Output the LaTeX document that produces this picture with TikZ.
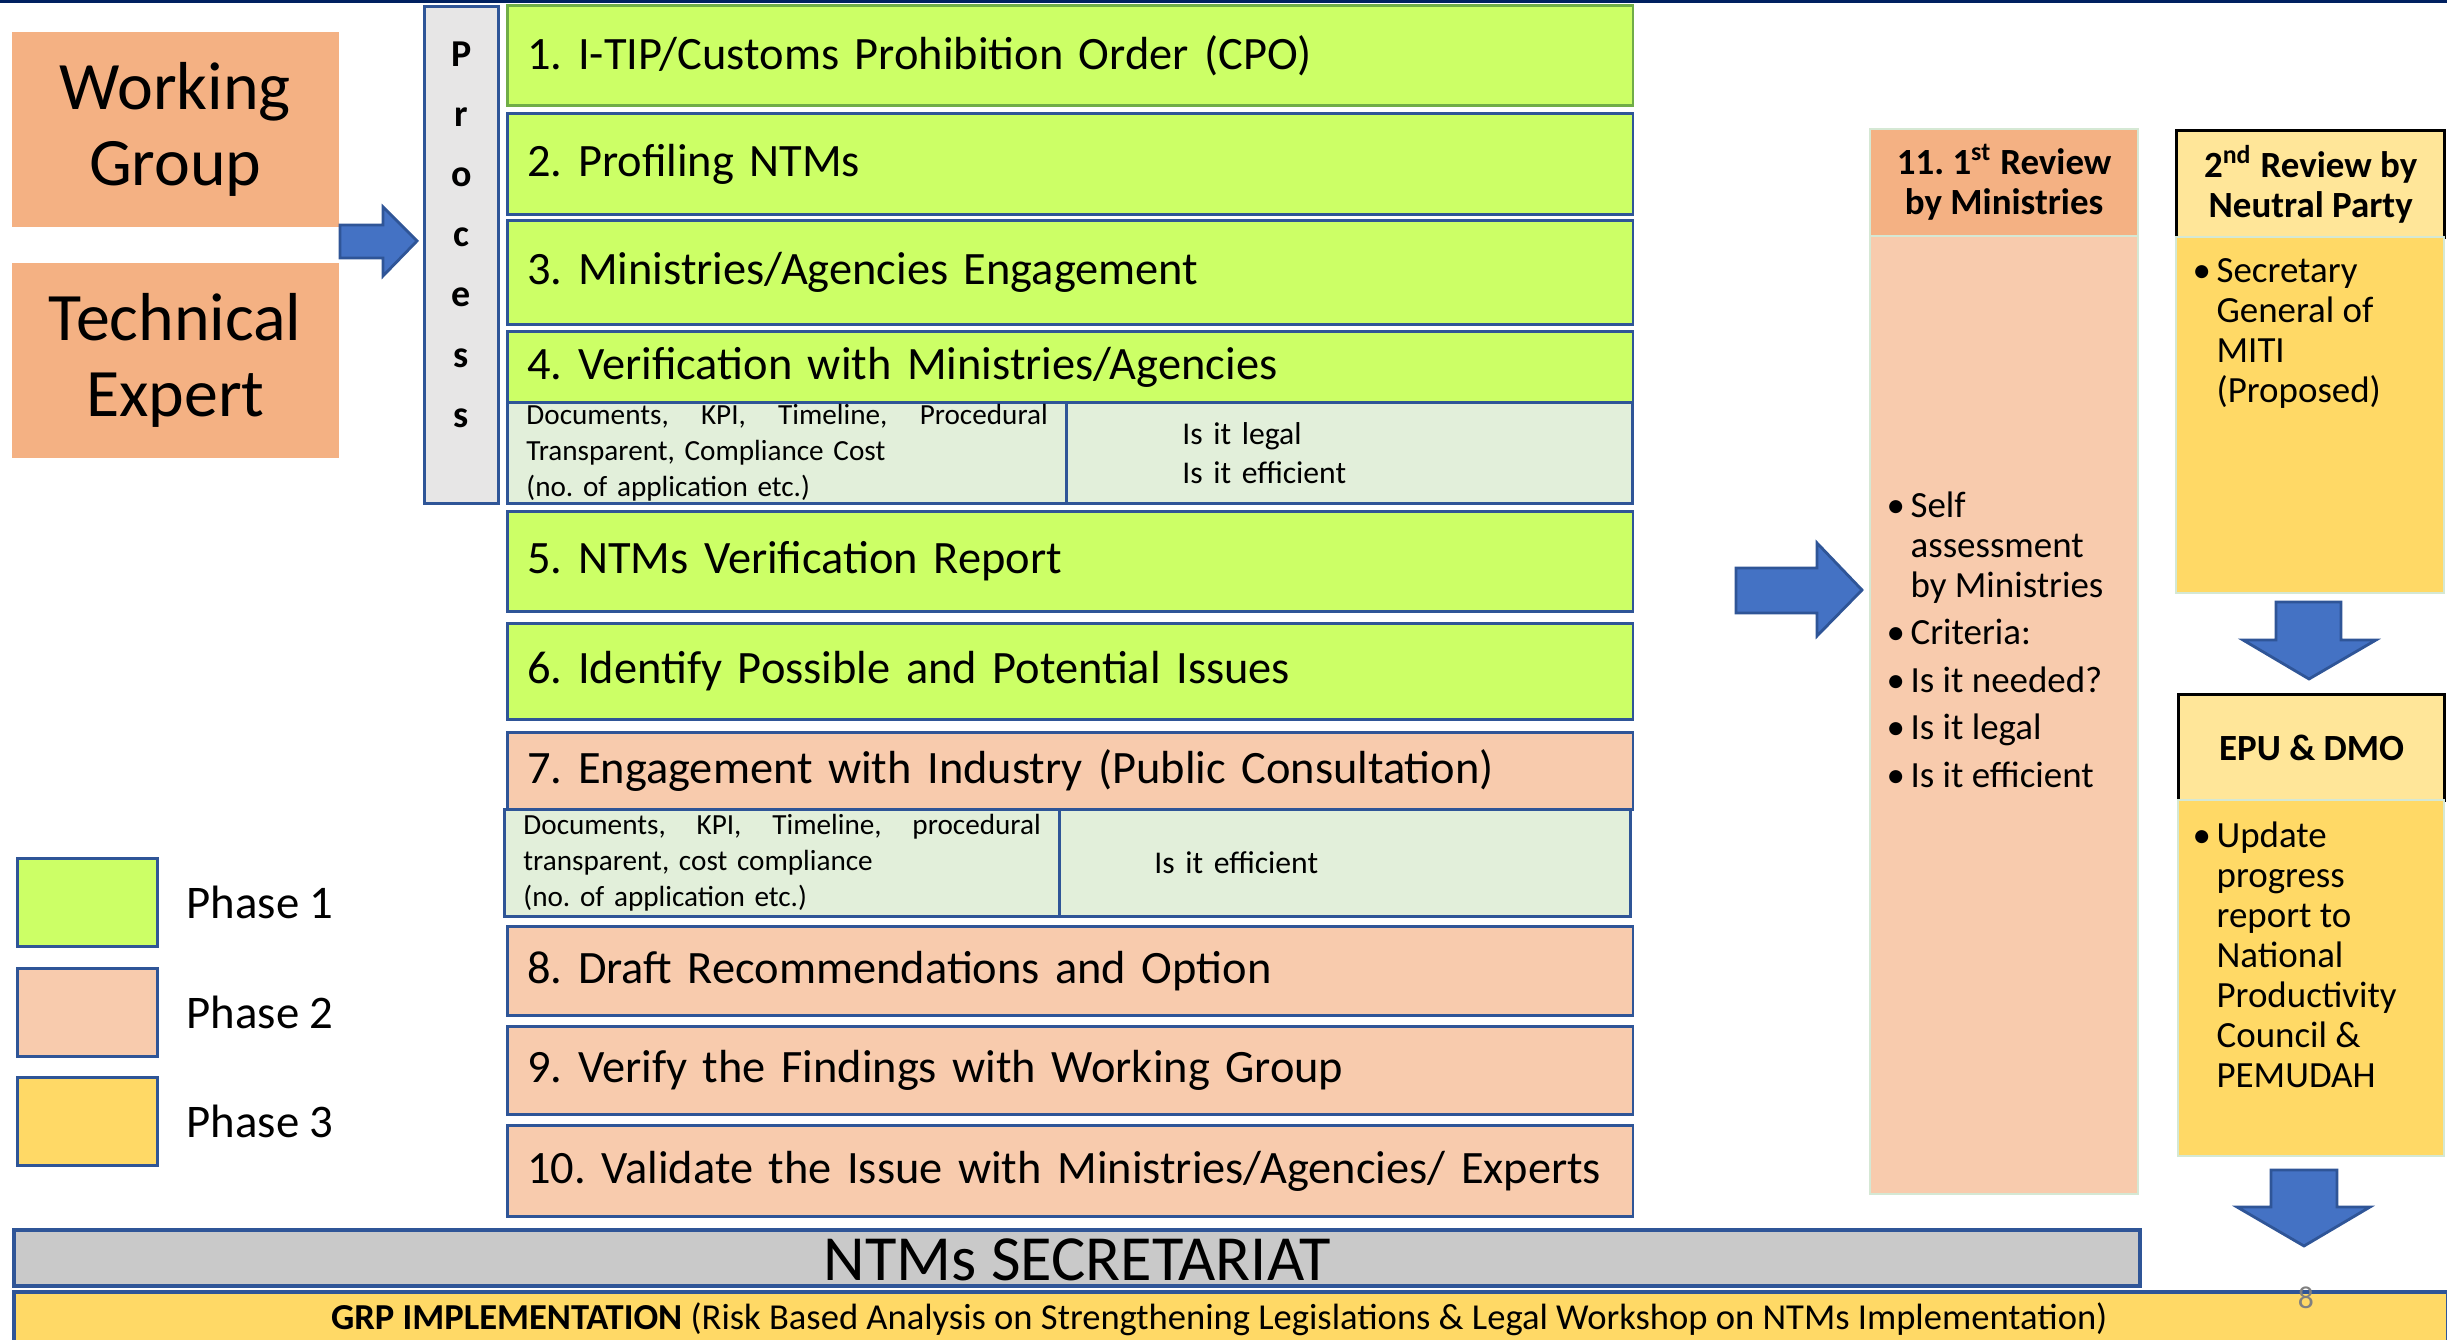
\documentclass[tikz,border=0pt]{standalone}
\usepackage{fontspec}
\setmainfont{Carlito}
\usetikzlibrary{positioning}

\definecolor{phaseone}{HTML}{CCFF66}
\definecolor{phasetwo}{HTML}{F8CBAD}
\definecolor{phasethree}{HTML}{FFD966}
\definecolor{orangehead}{HTML}{F4B183}
\definecolor{goldhead}{HTML}{FFE699}
\definecolor{subgreen}{HTML}{E2EFDA}
\definecolor{procgrey}{HTML}{E7E6E6}
\definecolor{secgrey}{HTML}{C9C9C9}
\definecolor{boxblue}{HTML}{2F5597}
\definecolor{arrowblue}{HTML}{4472C4}
\definecolor{greenline}{HTML}{70AD47}
\definecolor{paleframe}{HTML}{D5E8D4}
\definecolor{navy}{HTML}{002060}

\newcommand{\bul}{\makebox[6.8pt][l]{\textbullet}}
\newcommand{\ind}{\hspace*{6.8pt}}
\frenchspacing

\begin{document}
\begin{tikzpicture}[x=0.01cm, y=-0.01cm,
  stepbox/.style={draw=boxblue, line width=0.8pt, fill=phaseone, anchor=north west,
    minimum width=11.25cm, text width=10.85cm, inner xsep=0.2cm, inner ysep=0pt,
    align=left, font=\fontsize{13.2}{15}\selectfont},
  subbox/.style={draw=boxblue, line width=0.8pt, fill=subgreen, anchor=north west,
    inner ysep=0pt, align=left, font=\fontsize{8.3}{10.2}\selectfont},
  checkbox/.style={subbox, font=\fontsize{9}{11.1}\selectfont},
  rolebox/.style={fill=orangehead, anchor=north west, minimum width=3.27cm,
    minimum height=1.95cm, align=center, font=\fontsize{19.3}{21.5}\selectfont},
  legbox/.style={draw=boxblue, line width=0.8pt, anchor=north west,
    minimum width=1.4cm, minimum height=0.88cm},
  legtext/.style={inner sep=0pt, font=\fontsize{13.3}{15}\selectfont},
  headbox/.style={anchor=north west, minimum width=2.68cm, align=center,
    font=\fontsize{10.5}{11.4}\selectfont\bfseries},
  bodybox/.style={anchor=north west, minimum width=2.68cm, draw=paleframe, line width=0.6pt},
  bullettext/.style={anchor=north west, inner sep=0pt, align=left,
    font=\fontsize{10.5}{11.4}\selectfont},
  blockarrow/.style={fill=arrowblue, draw=boxblue, line width=0.8pt},
]
\useasboundingbox (0,0) rectangle (2447,1340);
\fill[navy] (0,0) rectangle (2447,3.5);

% who does it
\node[rolebox] (wg) at (11,31) {Working\\Group};
\node[rolebox] (te) at (11,262) {Technical\\Expert};
\draw[blockarrow] (340,225) -- (383,225) -- (383,207) -- (417,241) -- (383,276) -- (383,258) -- (340,258) -- cycle;

\node[draw=boxblue, line width=0.8pt, fill=procgrey, anchor=north west, minimum width=0.74cm, minimum height=4.97cm] (proc) at (423,5) {};
\node[anchor=north, inner sep=0pt, align=center, font=\fontsize{10.8}{17.1}\selectfont\bfseries] (procword) at ([yshift=-0.36cm]proc.north) {P\\r\\o\\c\\e\\s\\s};

% phase 1 steps
\node[stepbox, draw=greenline, minimum height=1cm] (s1) at (506,4) {1. I-TIP/Customs Prohibition Order (CPO)};
\node[stepbox, minimum height=1.01cm] (s2) at (506,112) {2. Profiling NTMs};
\node[stepbox, minimum height=1.04cm] (s3) at (506,219) {3. Ministries/Agencies Engagement};
\node[stepbox, minimum height=0.71cm] (s4) at (506,330) {4. Verification with Ministries/Agencies};
\node[subbox, minimum width=5.59cm, text width=5.21cm, inner xsep=0.19cm, minimum height=1.01cm] (s4a) at (506,401)
  {Documents,\hfill KPI,\hfill Timeline,\hfill Procedural\\Transparent, Compliance Cost\\(no. of application etc.)};
\node[checkbox, minimum width=5.66cm, text width=3.34cm, inner xsep=1.16cm, minimum height=1.01cm] (s4b) at (1065,401)
  {Is it legal\\Is it efficient};
\node[stepbox, minimum height=1cm] (s5) at (506,510) {5. NTMs Verification Report};
\node[stepbox, minimum height=0.96cm] (s6) at (506,622) {6. Identify Possible and Potential Issues};

% phase 2 steps
\node[stepbox, fill=phasetwo, minimum height=0.77cm] (s7) at (506,731) {7. Engagement with Industry (Public Consultation)};
\node[subbox, minimum width=5.55cm, text width=5.17cm, inner xsep=0.19cm, minimum height=1.07cm] (s7a) at (503,808)
  {Documents,\hfill KPI,\hfill Timeline,\hfill procedural\\transparent, cost compliance\\(no. of application etc.)};
\node[checkbox, minimum width=5.71cm, text width=3.81cm, inner xsep=0.95cm, minimum height=1.07cm] (s7b) at (1058,808)
  {Is it efficient};
\node[stepbox, fill=phasetwo, minimum height=0.89cm] (s8) at (506,925) {8. Draft Recommendations and Option};
\node[stepbox, fill=phasetwo, minimum height=0.88cm] (s9) at (506,1025) {9. Verify the Findings with Working Group};
\node[stepbox, fill=phasetwo, minimum height=0.91cm] (s10) at (506,1124) {10. Validate the Issue with Ministries/Agencies/ Experts};

% legend
\node[legbox, fill=phaseone] (leg1) at (16,857) {};
\node[legtext, right=0.27cm of leg1] (leg1txt) {Phase 1};
\node[legbox, fill=phasetwo] (leg2) at (16,967) {};
\node[legtext, right=0.27cm of leg2] (leg2txt) {Phase 2};
\node[legbox, fill=phasethree] (leg3) at (16,1076) {};
\node[legtext, right=0.27cm of leg3] (leg3txt) {Phase 3};

% reviews
\draw[blockarrow] (1736,568) -- (1817,568) -- (1817,543) -- (1862,590) -- (1817,636) -- (1817,613) -- (1736,613) -- cycle;

\node[headbox, fill=orangehead, draw=paleframe, line width=0.6pt, minimum height=1.07cm] (rev1head) at (1869,128) {11. 1\textsuperscript{st} Review\\by Ministries};
\node[bodybox, fill=phasetwo, minimum height=9.57cm] (rev1body) at (1869,235) {};
\node[bullettext] (rev1list) at (1886,491) {\bul Self\\\ind assessment\\\ind by Ministries\\[2.1pt]\bul Criteria:\\[2.1pt]\bul Is it needed?\\[2.1pt]\bul Is it legal\\[2.1pt]\bul Is it efficient};

\node[headbox, fill=goldhead, draw=black, line width=0.9pt, minimum height=1.07cm] (rev2head) at (2175,129) {2\textsuperscript{nd} Review by\\Neutral Party};
\node[bodybox, fill=phasethree, minimum height=3.56cm] (rev2body) at (2175,236) {};
\node[bullettext] (rev2list) at (2192,258) {\bul Secretary\\\ind General of\\\ind MITI\\\ind (Proposed)};

\draw[blockarrow] (2276,602) -- (2341,602) -- (2341,640) -- (2376,640) -- (2309,679) -- (2243,640) -- (2276,640) -- cycle;

\node[headbox, fill=goldhead, draw=black, line width=0.9pt, minimum width=2.66cm, minimum height=1.06cm] (epuhead) at (2177,693) {EPU \& DMO};
\node[bodybox, fill=phasethree, minimum width=2.66cm, minimum height=3.56cm] (epubody) at (2177,799) {};
\node[bullettext] (epulist) at (2192,821) {\bul Update\\\ind progress\\\ind report to\\\ind National\\\ind Productivity\\\ind Council \&\\\ind PEMUDAH};

\draw[blockarrow] (2271,1170) -- (2337,1170) -- (2337,1207) -- (2370,1207) -- (2304,1246) -- (2237,1207) -- (2271,1207) -- cycle;

% bottom bars
\node[draw=boxblue, line width=1.2pt, fill=secgrey, anchor=north west, minimum width=21.25cm, minimum height=0.56cm,
  inner sep=0pt, text height=0.5cm, text depth=0.05cm, font=\fontsize{18.3}{20}\selectfont] (secr) at (12,1228) {NTMs SECRETARIAT};
\node[draw=boxblue, line width=1.2pt, fill=phasethree, anchor=north west, minimum width=24.33cm, minimum height=0.65cm,
  inner sep=0pt, text height=0.27cm, text depth=0.17cm, font=\fontsize{10.4}{12}\selectfont] (grp) at (12,1290)
  {\textbf{GRP IMPLEMENTATION} (Risk Based Analysis on Strengthening Legislations \& Legal Workshop on NTMs Implementation)\hspace*{0.24cm}};
\node[text=gray, inner sep=0pt, font=\fontsize{9}{9}\selectfont] (pgno) at (2306,1298) {8};
\end{tikzpicture}
\end{document}
